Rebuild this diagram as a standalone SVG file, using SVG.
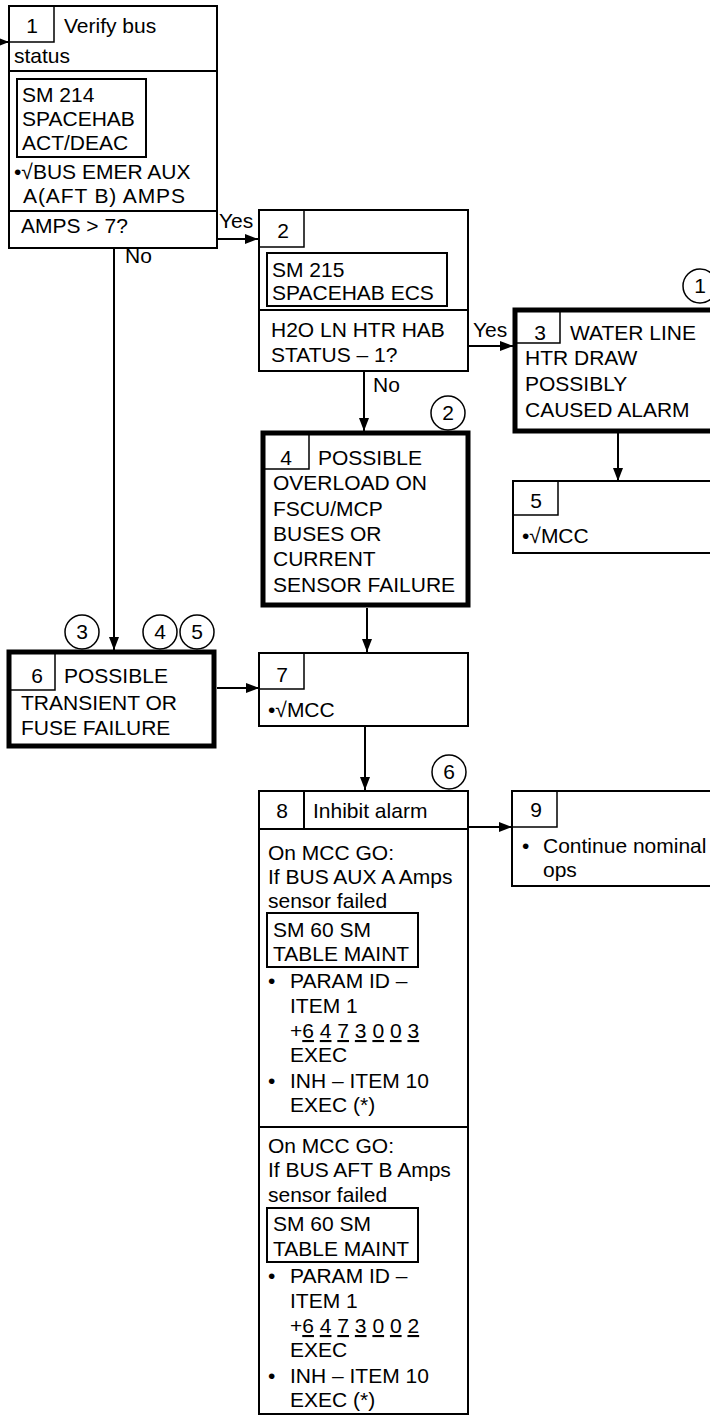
<svg xmlns="http://www.w3.org/2000/svg" width="710" height="1416" viewBox="0 0 710 1416">
<defs>
<style>
text{font-family:"Liberation Sans",Arial,sans-serif;font-size:21px;fill:#000}
.c{text-anchor:middle}
.box{fill:#fff;stroke:#000;stroke-width:2}
.thick{fill:#fff;stroke:#000;stroke-width:5}
.ln{fill:none;stroke:#000;stroke-width:2}
.num{fill:none;stroke:#000;stroke-width:1.5}
.circ{fill:#fff;stroke:#000;stroke-width:1.5}
.u{text-decoration:underline}
</style>
<marker id="ah" markerUnits="userSpaceOnUse" markerWidth="14" markerHeight="12" refX="13" refY="5" orient="auto">
<path d="M0,0 L13,5 L0,10 z" fill="#000"/>
</marker>
</defs>
<rect width="710" height="1416" fill="#fff"/>

<g id="connectors">
<path class="ln" d="M0,42 H9" marker-end="url(#ah)"/>
<path class="ln" d="M217,239 H258" marker-end="url(#ah)"/>
<text x="219" y="228">Yes</text>
<path class="ln" d="M114,248 V650" marker-end="url(#ah)"/>
<text x="125" y="263">No</text>
<path class="ln" d="M468,346 H513" marker-end="url(#ah)"/>
<text x="473" y="337">Yes</text>
<path class="ln" d="M364,371 V431" marker-end="url(#ah)"/>
<text x="373" y="392">No</text>
<path class="ln" d="M618,432 V481" marker-end="url(#ah)"/>
<path class="ln" d="M367,608 V652" marker-end="url(#ah)"/>
<path class="ln" d="M217,688 H259" marker-end="url(#ah)"/>
<path class="ln" d="M365,726 V790" marker-end="url(#ah)"/>
<path class="ln" d="M468,827 H512" marker-end="url(#ah)"/>
</g>

<g id="node1">
<rect class="box" x="9" y="6" width="208" height="242"/>
<path class="num" d="M9,42 H54 V6"/>
<text class="c" x="32" y="33">1</text>
<text x="64" y="33">Verify bus</text>
<text x="14" y="63">status</text>
<path class="ln" d="M9,71 H217"/>
<rect class="box" x="17" y="79" width="129" height="78"/>
<text x="22" y="102">SM 214</text>
<text x="22" y="126">SPACEHAB</text>
<text x="22" y="150">ACT/DEAC</text>
<text x="14" y="179">•√BUS EMER AUX</text>
<text x="23" y="203" textLength="162" lengthAdjust="spacing">A(AFT B) AMPS</text>
<path class="ln" d="M9,211 H217"/>
<text x="21" y="233">AMPS &gt; 7?</text>
</g>

<g id="node2">
<rect class="box" x="259" y="210" width="209" height="161"/>
<path class="num" d="M259,247 H304 V210"/>
<text class="c" x="283" y="238">2</text>
<rect class="box" x="267" y="253" width="180" height="53"/>
<text x="272" y="277">SM 215</text>
<text x="272" y="300">SPACEHAB ECS</text>
<path class="ln" d="M259,310 H468"/>
<text x="271" y="337">H2O LN HTR HAB</text>
<text x="271" y="362">STATUS – 1?</text>
</g>

<g id="node3">
<rect class="thick" x="515" y="310" width="210" height="121"/>
<path class="num" d="M515,343 H560 V310"/>
<text class="c" x="540" y="340">3</text>
<text x="570" y="340">WATER LINE</text>
<text x="525" y="365">HTR DRAW</text>
<text x="525" y="391">POSSIBLY</text>
<text x="525" y="417">CAUSED ALARM</text>
<circle class="circ" cx="700" cy="286" r="17"/>
<text class="c" x="700" y="293">1</text>
</g>

<g id="node4">
<rect class="thick" x="263" y="433" width="205" height="172"/>
<path class="num" d="M263,469 H309 V433"/>
<text class="c" x="286" y="465">4</text>
<text x="318" y="465">POSSIBLE</text>
<text x="273" y="490">OVERLOAD ON</text>
<text x="273" y="516">FSCU/MCP</text>
<text x="273" y="541">BUSES OR</text>
<text x="273" y="566">CURRENT</text>
<text x="273" y="592">SENSOR FAILURE</text>
<circle class="circ" cx="448" cy="413" r="17"/>
<text class="c" x="448" y="420">2</text>
</g>

<g id="node5">
<rect class="box" x="513" y="481" width="210" height="72"/>
<path class="num" d="M513,515 H558 V481"/>
<text class="c" x="536" y="508">5</text>
<text x="522" y="543">•√MCC</text>
</g>

<g id="node6">
<rect class="thick" x="9" y="652" width="205" height="94"/>
<path class="num" d="M9,690 H55 V652"/>
<text class="c" x="37" y="683">6</text>
<text x="64" y="683">POSSIBLE</text>
<text x="21" y="710">TRANSIENT OR</text>
<text x="21" y="735">FUSE FAILURE</text>
<circle class="circ" cx="82" cy="632" r="17"/>
<text class="c" x="82" y="639">3</text>
<circle class="circ" cx="160" cy="632" r="17"/>
<text class="c" x="160" y="639">4</text>
<circle class="circ" cx="197" cy="632" r="17"/>
<text class="c" x="197" y="639">5</text>
</g>

<g id="node7">
<rect class="box" x="259" y="653" width="209" height="73"/>
<path class="num" d="M259,689 H304 V653"/>
<text class="c" x="282" y="682">7</text>
<text x="268" y="717">•√MCC</text>
</g>

<g id="node8">
<rect class="box" x="259" y="791" width="209" height="623"/>
<path class="ln" d="M304,791 V829 M259,829 H468"/>
<text class="c" x="282" y="818">8</text>
<text x="313" y="818">Inhibit alarm</text>
<text x="268" y="860">On MCC GO:</text>
<text x="268" y="884">If BUS AUX A Amps</text>
<text x="268" y="908">sensor failed</text>
<rect class="box" x="267" y="913" width="151" height="54"/>
<text x="273" y="937">SM 60 SM</text>
<text x="273" y="961">TABLE MAINT</text>
<text x="268" y="988">•</text>
<text x="290" y="988">PARAM ID –</text>
<text x="290" y="1013">ITEM 1</text>
<text x="290" y="1038">+<tspan class="u">6</tspan> <tspan class="u">4</tspan> <tspan class="u">7</tspan> <tspan class="u">3</tspan> <tspan class="u">0</tspan> <tspan class="u">0</tspan> <tspan class="u">3</tspan></text>
<text x="290" y="1062">EXEC</text>
<text x="268" y="1088">•</text>
<text x="290" y="1088">INH – ITEM 10</text>
<text x="290" y="1112">EXEC (*)</text>
<path class="ln" d="M259,1127 H468"/>
<text x="268" y="1153">On MCC GO:</text>
<text x="268" y="1177">If BUS AFT B Amps</text>
<text x="268" y="1202">sensor failed</text>
<rect class="box" x="267" y="1208" width="151" height="54"/>
<text x="273" y="1231">SM 60 SM</text>
<text x="273" y="1256">TABLE MAINT</text>
<text x="268" y="1283">•</text>
<text x="290" y="1283">PARAM ID –</text>
<text x="290" y="1308">ITEM 1</text>
<text x="290" y="1333">+<tspan class="u">6</tspan> <tspan class="u">4</tspan> <tspan class="u">7</tspan> <tspan class="u">3</tspan> <tspan class="u">0</tspan> <tspan class="u">0</tspan> <tspan class="u">2</tspan></text>
<text x="290" y="1357">EXEC</text>
<text x="268" y="1383">•</text>
<text x="290" y="1383">INH – ITEM 10</text>
<text x="290" y="1407">EXEC (*)</text>
<circle class="circ" cx="449" cy="772" r="17"/>
<text class="c" x="449" y="779">6</text>
</g>

<g id="node9">
<rect class="box" x="512" y="791" width="210" height="95"/>
<path class="num" d="M512,827 H557 V791"/>
<text class="c" x="536" y="817">9</text>
<text x="522" y="853">•</text>
<text x="543" y="853">Continue nominal</text>
<text x="543" y="877">ops</text>
</g>
</svg>
